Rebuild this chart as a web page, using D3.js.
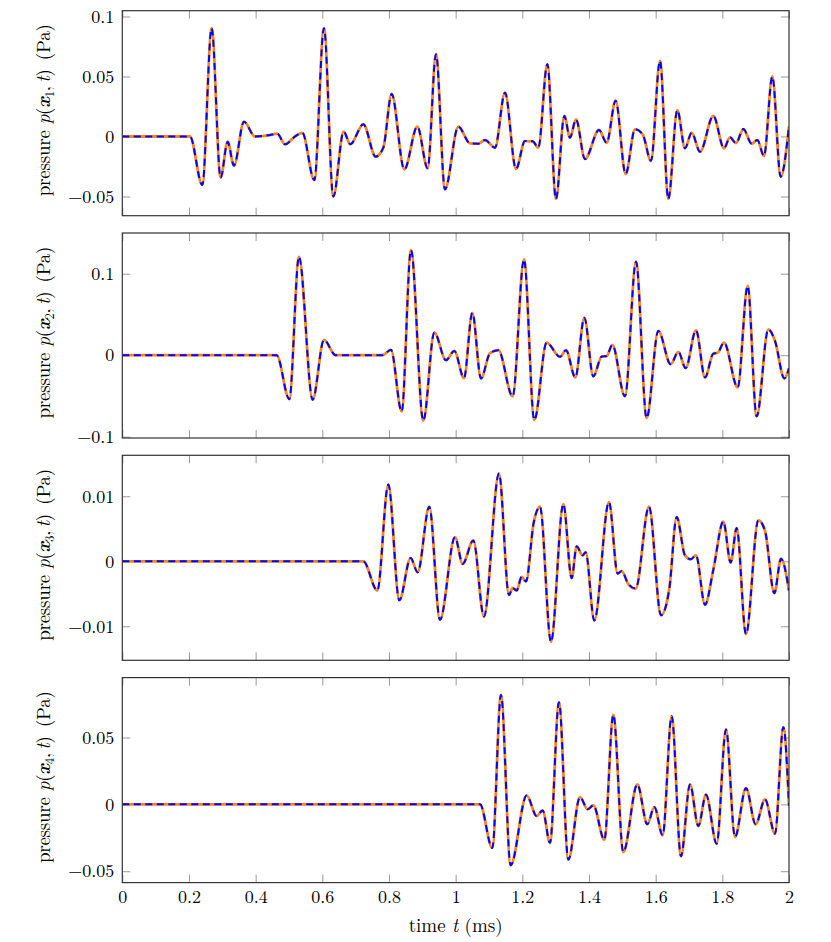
<!DOCTYPE html>
<html><head><meta charset="utf-8">
<script src="https://cdn.jsdelivr.net/npm/d3@7"></script>
<style>body{margin:0;background:#fff}svg{display:block}</style>
</head><body><svg id="c" width="831" height="942"></svg>
<script>
// ---------- data ----------
const timeTicks = [0, 0.2, 0.4, 0.6, 0.8, 1, 1.2, 1.4, 1.6, 1.8, 2];
const timeTickLabels = ["0", "0.2", "0.4", "0.6", "0.8", "1", "1.2", "1.4", "1.6", "1.8", "2"];

const p1Ticks = [-0.05, 0, 0.05, 0.1];
const p1TickLabels = ["\u22120.05", "0", "0.05", "0.1"];
const p2Ticks = [-0.1, 0, 0.1];
const p2TickLabels = ["\u22120.1", "0", "0.1"];
const p3Ticks = [-0.01, 0, 0.01];
const p3TickLabels = ["\u22120.01", "0", "0.01"];
const p4Ticks = [-0.05, 0, 0.05];
const p4TickLabels = ["\u22120.05", "0", "0.05"];

const p1Domain = [-0.066, 0.1048];
const p2Domain = [-0.1016, 0.150];
const p3Domain = [-0.01523, 0.0163];
const p4Domain = [-0.0585, 0.0948];

// pressure at x1 (t in ms, p in Pa)
const p1Data = [[0,0],[0.203,0],[0.240,-0.0404],[0.268,0.0902],[0.295,-0.0343],[0.316,-0.0043],[0.335,-0.0243],[0.365,0.0123],[0.398,0.0],[0.438,0.001],[0.465,0.0023],[0.488,-0.0065],[0.518,0.0],[0.540,0.003],[0.576,-0.0363],[0.605,0.0902],[0.633,-0.050],[0.664,0.004],[0.684,-0.0065],[0.723,0.0102],[0.760,-0.0168],[0.783,-0.0093],[0.808,0.0354],[0.846,-0.0274],[0.885,0.0082],[0.916,-0.0265],[0.941,0.0685],[0.968,-0.044],[1.008,0.0082],[1.043,-0.0057],[1.068,-0.006],[1.088,-0.003],[1.118,-0.0093],[1.148,0.0365],[1.181,-0.027],[1.208,-0.0038],[1.231,-0.004],[1.248,-0.0093],[1.275,0.0602],[1.301,-0.052],[1.326,0.0171],[1.343,-0.001],[1.361,0.0143],[1.388,-0.0188],[1.430,0.0054],[1.453,-0.0052],[1.480,0.0298],[1.510,-0.0313],[1.538,0.006],[1.561,0.0018],[1.586,-0.0202],[1.613,0.063],[1.638,-0.052],[1.665,0.022],[1.688,-0.0098],[1.708,0.0032],[1.733,-0.0127],[1.773,0.0171],[1.805,-0.0098],[1.823,-0.0007],[1.841,-0.0055],[1.863,0.0062],[1.888,-0.006],[1.905,-0.003],[1.925,-0.0162],[1.950,0.050],[1.975,-0.0335],[2.0,0.0085]];

// pressure at x2
const p2Data = [[0,0],[0.463,0],[0.501,-0.0539],[0.530,0.1208],[0.571,-0.0546],[0.605,0.0188],[0.640,0.0],[0.780,0.0],[0.806,0.0066],[0.838,-0.069],[0.866,0.129],[0.903,-0.0803],[0.936,0.0278],[0.971,-0.0061],[0.996,0.0053],[1.025,-0.028],[1.050,0.052],[1.076,-0.0285],[1.103,0.0025],[1.128,0.0062],[1.171,-0.0505],[1.205,0.1175],[1.236,-0.0795],[1.273,0.0155],[1.313,-0.002],[1.331,0.0062],[1.359,-0.0273],[1.386,0.0461],[1.413,-0.026],[1.438,-0.0016],[1.453,-0.001],[1.470,0.0127],[1.508,-0.0505],[1.541,0.1147],[1.573,-0.0771],[1.608,0.0298],[1.645,-0.011],[1.668,0.0041],[1.690,-0.0159],[1.721,0.0306],[1.748,-0.0273],[1.773,0.002],[1.786,0.003],[1.805,0.0155],[1.846,-0.0395],[1.876,0.085],[1.903,-0.075],[1.938,0.0318],[1.958,0.0176],[1.986,-0.0285],[2.0,-0.016]];

// pressure at x3
const p3Data = [[0,0],[0.723,0],[0.765,-0.0045],[0.798,0.0118],[0.831,-0.006],[0.865,0.0005],[0.886,-0.0017],[0.921,0.0084],[0.953,-0.009],[0.998,0.0037],[1.021,-0.0004],[1.053,0.0032],[1.085,-0.0085],[1.130,0.0135],[1.160,-0.0052],[1.171,-0.0041],[1.183,-0.0045],[1.198,-0.0024],[1.211,-0.0031],[1.234,0.0059],[1.253,0.0084],[1.286,-0.0124],[1.323,0.0088],[1.348,-0.0026],[1.363,0.0023],[1.381,0.0009],[1.390,0.0014],[1.416,-0.0091],[1.460,0.0091],[1.486,-0.0019],[1.498,-0.0015],[1.518,-0.0035],[1.540,-0.0042],[1.580,0.0084],[1.616,-0.0083],[1.641,-0.0042],[1.663,0.0068],[1.688,0.0009],[1.705,0.0003],[1.721,0.0009],[1.748,-0.0067],[1.773,-0.0013],[1.803,0.0061],[1.825,-0.0002],[1.843,0.0051],[1.871,-0.0112],[1.908,0.0063],[1.928,0.0047],[1.956,-0.0049],[1.976,0.0004],[2.0,-0.0045]];

// pressure at x4
const p4Data = [[0,0],[1.073,0],[1.110,-0.0326],[1.136,0.0818],[1.165,-0.0455],[1.213,0.0067],[1.243,-0.0087],[1.261,-0.0045],[1.283,-0.0287],[1.310,0.0763],[1.338,-0.0413],[1.373,0.0054],[1.396,-0.0037],[1.413,-0.0007],[1.446,-0.0264],[1.473,0.0669],[1.503,-0.0356],[1.545,0.0149],[1.575,-0.0149],[1.596,-0.002],[1.621,-0.0231],[1.648,0.0659],[1.676,-0.0388],[1.703,0.0149],[1.728,-0.0162],[1.751,0.0072],[1.783,-0.0294],[1.811,0.056],[1.838,-0.0244],[1.871,0.0122],[1.900,-0.0149],[1.928,0.0037],[1.958,-0.0219],[1.983,0.0577],[2.0,-0.001]];

const panelData = [p1Data, p2Data, p3Data, p4Data];
const panelTicks = [p1Ticks, p2Ticks, p3Ticks, p4Ticks];
const panelTickLabels = [p1TickLabels, p2TickLabels, p3TickLabels, p4TickLabels];
const panelDomains = [p1Domain, p2Domain, p3Domain, p4Domain];
const panelSubs = ["1", "2", "3", "4"];

// ---------- layout ----------
const svg = d3.select("#c");
const FONT = "'Latin Modern Roman','CMU Serif','Liberation Serif','Times New Roman',serif";
const left = 122.3, right = 789, panelH = 205, panelStep = 222.3, top0 = 10.7;
const tickLen = 8;
const x = d3.scaleLinear().domain([0, 2]).range([left, right]);

panelData.forEach((data, i) => {
  const top = top0 + i * panelStep, bottom = top + panelH;
  const y = d3.scaleLinear().domain(panelDomains[i]).range([bottom, top]);
  const g = svg.append("g");

  const clipId = "clip" + i;
  svg.append("clipPath").attr("id", clipId).append("rect")
    .attr("x", left).attr("y", top).attr("width", right - left).attr("height", panelH);

  // y ticks (left, inward) with labels
  const yAxisL = d3.axisLeft(y).tickValues(panelTicks[i])
    .tickFormat((d, k) => panelTickLabels[i][k]).tickSizeInner(-tickLen).tickSizeOuter(0).tickPadding(8);
  const gl = g.append("g").attr("transform", `translate(${left},0)`).call(yAxisL);
  // y ticks (right, inward)
  const yAxisR = d3.axisRight(y).tickValues(panelTicks[i]).tickFormat("").tickSizeInner(-tickLen).tickSizeOuter(0);
  const gr = g.append("g").attr("transform", `translate(${right},0)`).call(yAxisR);
  // x ticks (bottom, inward)
  const xAxisB = d3.axisBottom(x).tickValues(timeTicks)
    .tickFormat((d, k) => i === 3 ? timeTickLabels[k] : "").tickSizeInner(-tickLen).tickSizeOuter(0).tickPadding(8);
  const gb = g.append("g").attr("transform", `translate(0,${bottom})`).call(xAxisB);
  // x ticks (top, inward)
  const xAxisT = d3.axisTop(x).tickValues(timeTicks).tickFormat("").tickSizeInner(-tickLen).tickSizeOuter(0);
  const gt = g.append("g").attr("transform", `translate(0,${top})`).call(xAxisT);

  [gl, gr, gb, gt].forEach(a => {
    a.select(".domain").remove();
    a.selectAll(".tick line").attr("stroke", "#9a9a9a").attr("stroke-width", 1);
    a.selectAll(".tick text").attr("font-family", FONT).attr("font-size", 18).attr("fill", "#000");
  });

  // curves
  const line = d3.line().x(d => x(d[0])).y(d => y(d[1])).curve(d3.curveMonotoneX);
  const lg = g.append("g").attr("clip-path", `url(#${clipId})`);
  lg.append("path").datum(data).attr("d", line).attr("fill", "none")
    .attr("stroke", "#f7861c").attr("stroke-width", 2.8).attr("stroke-linejoin", "round");
  lg.append("path").datum(data).attr("d", line).attr("fill", "none")
    .attr("stroke", "#0000ff").attr("stroke-width", 2).attr("stroke-dasharray", "7,4.5");

  // frame
  g.append("rect").attr("x", left).attr("y", top).attr("width", right - left).attr("height", panelH)
    .attr("fill", "none").attr("stroke", "#333").attr("stroke-width", 1.2);

  // y label
  const cy = (top + bottom) / 2 - 3;
  const t = g.append("text").attr("transform", `translate(50,${cy}) rotate(-90)`)
    .attr("text-anchor", "middle").attr("font-family", FONT).attr("font-size", 19).attr("fill", "#000")
    .attr("textLength", 172).attr("lengthAdjust", "spacing");
  t.append("tspan").text("pressure ");
  t.append("tspan").attr("font-style", "italic").text("p");
  t.append("tspan").text("(");
  t.append("tspan").attr("font-style", "italic").attr("font-weight", "bold").text("x");
  t.append("tspan").attr("font-size", 13).attr("dy", 4).text(panelSubs[i]);
  t.append("tspan").attr("dy", -4).text(",\u2009");
  t.append("tspan").attr("font-style", "italic").text("t");
  t.append("tspan").text(")\u2002(Pa)");
});

// x label
const xl = svg.append("text").attr("x", (left + right) / 2).attr("y", 932)
  .attr("text-anchor", "middle").attr("font-family", FONT).attr("font-size", 19).attr("fill", "#000");
xl.append("tspan").text("time ");
xl.append("tspan").attr("font-style", "italic").text("t");
xl.append("tspan").text(" (ms)");
</script></body></html>
